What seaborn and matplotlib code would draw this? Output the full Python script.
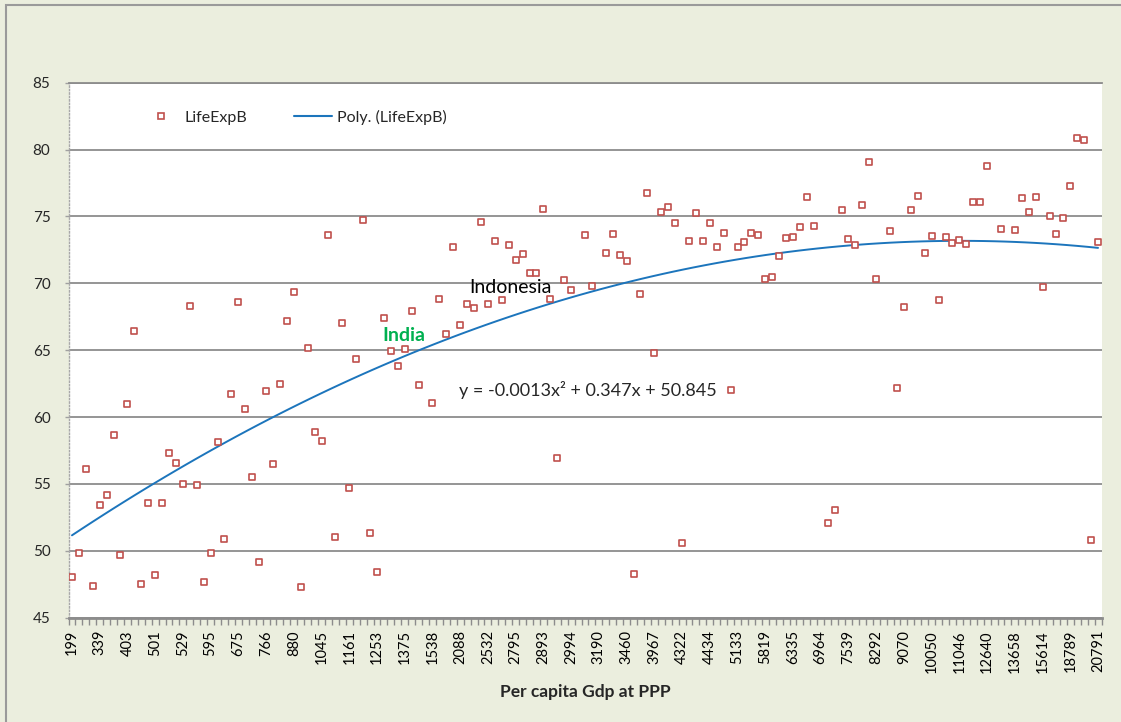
import numpy as np
import pandas as pd
import matplotlib
matplotlib.use("Agg")
import matplotlib.pyplot as plt
from matplotlib.lines import Line2D
from matplotlib.patches import Rectangle
import seaborn as sns

# Life expectancy per country, ordered by per-capita GDP at PPP (NaN = no data)
nan = np.nan
life_exp = [
    48.0, 49.84, 56.1, 47.34, 53.4, 54.2, 58.67, 49.66, 60.94, 66.43,
    47.55, 53.6, 48.2, 53.6, 57.34, 56.56, 55.0, 68.33, 54.9, 47.63,
    49.84, 58.1, 50.9, 61.72, 68.6, 60.57, 55.55, 49.17, 61.95, 56.46,
    62.5, 67.2, 69.32, 47.3, 65.16, 58.9, 58.18, 73.62, 51.04, 67.03,
    54.71, 64.32, 74.71, 51.35, 48.39, 67.42, 64.97, 63.8, 65.1, 67.94,
    62.4, nan, 61.04, 68.85, 66.22, 72.71, 66.85, 68.46, 68.15, 74.61,
    68.46, 73.2, 68.72, 72.86, 71.74, 72.16, 70.78, 70.78, 75.57, 68.85,
    56.95, 70.23, 69.5, nan, 73.65, 69.8, nan, 72.27, 73.72, 72.11,
    71.69, 48.26, 69.19, 76.77, 64.82, 75.31, 75.73, 74.48, 50.6, 73.15,
    75.29, 73.15, 74.5, 72.73, 73.8, 62.0, 72.73, 73.07, 73.8, 73.65,
    70.36, 70.44, 72.08, 73.39, 73.49, 74.19, 76.43, 74.32, nan, 52.06,
    53.05, 75.52, 73.33, 72.84, 75.86, 79.06, 70.29, nan, 73.91, 62.21,
    68.23, 75.49, 76.56, 72.29, 73.57, 68.75, 73.46, 73.02, 73.23, 72.97,
    76.09, 76.09, 78.78, nan, 74.09, nan, 74.01, 76.35, 75.31, 76.46,
    69.71, 75.0, 73.72, 74.9, 77.29, 80.89, 80.7, 50.81, 73.07,
]

# Category labels shown on the axis (every fourth country)
gdp_labels = [
    199, 339, 403, 501, 529, 595, 675, 766, 880, 1045, 1161, 1253, 1375,
    1538, 2088, 2532, 2795, 2893, 2994, 3190, 3460, 3967, 4322, 4434, 5133,
    5819, 6335, 6964, 7539, 8292, 9070, 10050, 11046, 12640, 13658, 15614,
    18789, 20791,
]
label_step = 4

series_name = "LifeExpB"
trend_name = "Poly. (LifeExpB)"
equation = "y = -0.0013x² + 0.347x + 50.845"
annotations = [("India", 47.9, 66.1), ("Indonesia", 63.2, 69.7)]

sns.set_style("white")
plt.rcParams["font.family"] = ["Lato", "DejaVu Sans"]

W, H = 1121, 722
fig = plt.figure(figsize=(W / 100, H / 100), dpi=100)
fig.patch.set_facecolor("#EBEEDE")

# outer chart frame
fig.add_artist(Rectangle((6 / W, -0.1), 2, 1 - 5 / H + 0.1, transform=fig.transFigure,
                         fill=False, ec="#9A9A9A", lw=1.5))

left, right, top, bottom = 68.5, 1101.5, 82.8, 617.6
ax = fig.add_axes([left / W, 1 - bottom / H, (right - left) / W, (bottom - top) / H])
ax.set_facecolor("white")

df = pd.DataFrame({"idx": np.arange(len(life_exp)), "life": life_exp})

red = "#C0504D"
blue = "#1C75BC"

# quadratic trend over the category index
sns.regplot(data=df, x="idx", y="life", order=2, ci=None, scatter=False,
            line_kws=dict(color=blue, lw=1.4, zorder=3), ax=ax)
sns.scatterplot(data=df, x="idx", y="life", marker="s", s=19, color="white",
                edgecolor=red, linewidth=1.2, zorder=4, ax=ax)

ax.set_xlim(-0.5, len(life_exp) - 0.5)
ax.set_ylim(45, 85)
ax.set_yticks(range(45, 90, 5))
ax.yaxis.grid(True, color="#8C8C8C", lw=1.3)
ax.set_axisbelow(True)

ax.set_xticks(np.arange(0, len(life_exp), label_step))
ax.set_xticklabels([str(v) for v in gdp_labels], rotation=90, fontsize=10.5)
ax.set_xticks(np.arange(-0.5, len(life_exp), 1), minor=True)
ax.tick_params(axis="x", which="major", length=0, pad=9, colors="#000000")
ax.tick_params(axis="x", which="minor", length=5, width=1, color="#8C8C8C", direction="out",
               bottom=True)
ax.tick_params(axis="y", which="major", length=3, width=1, color="#A0A0A0", pad=10,
               labelsize=11, left=True)

ax.spines["right"].set_visible(False)
ax.spines["top"].set_color("#8C8C8C")
ax.spines["top"].set_linewidth(1.3)
ax.spines["bottom"].set_color("#8C8C8C")
ax.spines["bottom"].set_linewidth(2)
ax.spines["left"].set_color("#A8A8A8")
ax.spines["left"].set_linewidth(1)
ax.spines["left"].set_linestyle((0, (1, 1.5)))

ax.set_ylabel("")
ax.set_xlabel("Per capita Gdp at PPP", fontsize=12.5, fontweight="bold")
ax.xaxis.set_label_coords((585 - left) / (right - left), -(684 - bottom) / (bottom - top))

for name, xi, yv in annotations:
    if name == "India":
        ax.text(xi, yv, name, color="#00B050", fontweight="bold", fontsize=14,
                ha="center", va="center", zorder=5)
    else:
        ax.text(xi, yv, name, color="black", fontsize=14, ha="center", va="center", zorder=5)

ax.text(55.8, 62.0, equation, fontsize=13, ha="left", va="center", zorder=5)

handles = [
    Line2D([], [], marker="s", ls="none", mfc="white", mec=red, ms=5, mew=1.2),
    Line2D([], [], color=blue, lw=1.5),
]
ax.legend(handles, [series_name, trend_name], ncol=2, frameon=False, fontsize=11.5,
          loc="center left", bbox_to_anchor=((127 - left) / (right - left), 0.936),
          handlelength=2.4, handletextpad=0.3, columnspacing=2.9)

fig.savefig("out.png", dpi=100, facecolor=fig.get_facecolor())
